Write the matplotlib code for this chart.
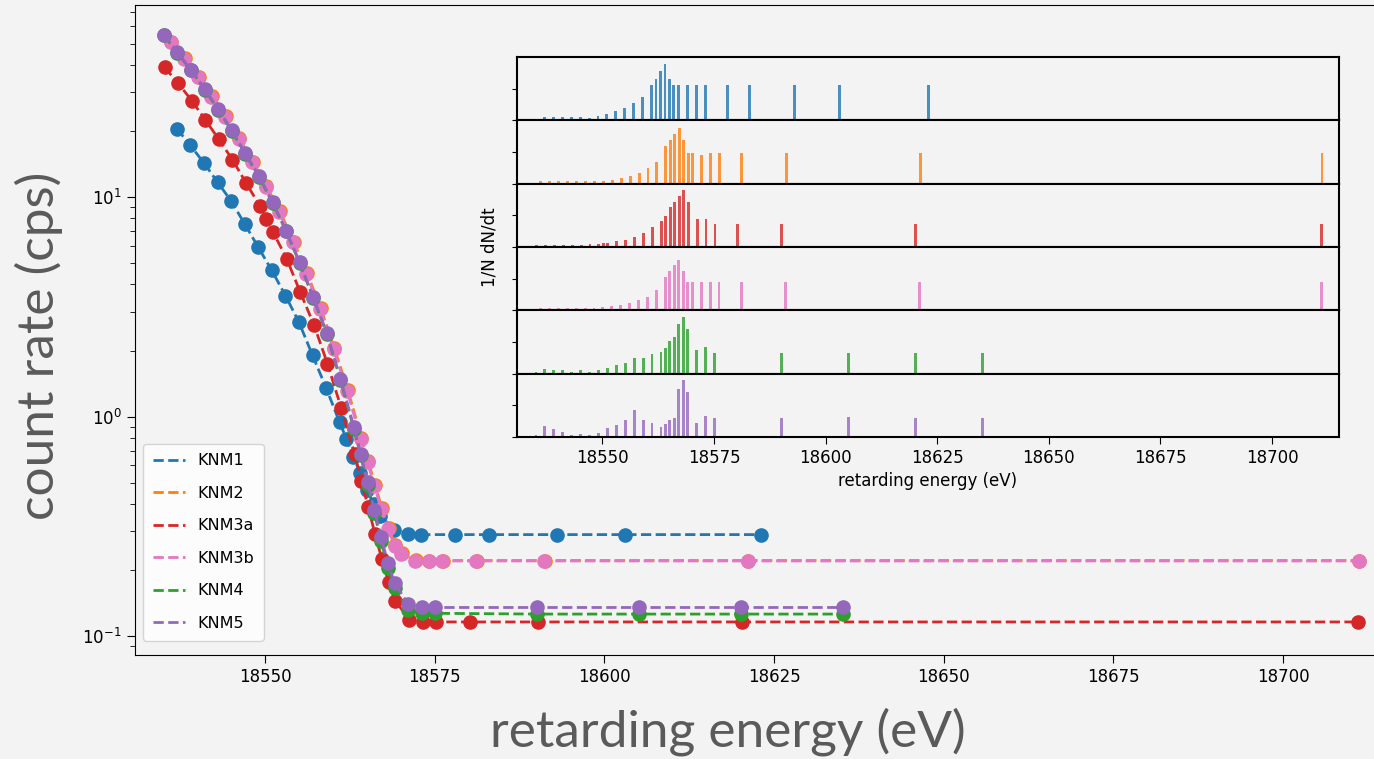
import matplotlib.pyplot as plt
from matplotlib.lines import Line2D

names = ["KNM1", "KNM2", "KNM3a", "KNM3b", "KNM4", "KNM5"]
colors = ["#1f77b4", "#ff7f0e", "#d62728", "#e377c2", "#2ca02c", "#9467bd"]

# retarding energies (eV)
e_knm1 = [18537, 18539, 18541, 18543, 18545, 18547, 18549, 18551, 18553, 18555,
          18557, 18559, 18561, 18562, 18563, 18564, 18565, 18566, 18567, 18569,
          18571, 18573, 18578, 18583, 18593, 18603, 18623]
e_knm2 = [18536.2, 18538.2, 18540.2, 18542.2, 18544.2, 18546.2, 18548.2, 18550.2,
          18552.2, 18554.2, 18556.2, 18558.2, 18560.2, 18562.2, 18564.2, 18565.2,
          18566.2, 18567.2, 18568.2, 18569.2, 18570.2, 18572.2, 18574.2, 18576.2,
          18581.2, 18591.2, 18621.2, 18711.2]
e_knm3a = [18535.2, 18537.2, 18539.2, 18541.2, 18543.2, 18545.2, 18547.2, 18549.2,
           18550.2, 18551.2, 18553.2, 18555.2, 18557.2, 18559.2, 18561.2, 18563.2,
           18564.2, 18565.2, 18566.2, 18567.2, 18568.2, 18569.2, 18571.2, 18573.2,
           18575.2, 18580.2, 18590.2, 18620.2, 18711.0]
e_knm3b = [18536.1, 18538.1, 18540.1, 18542.1, 18544.1, 18546.1, 18548.1, 18550.1,
           18552.1, 18554.1, 18556.1, 18558.1, 18560.1, 18562.1, 18564.1, 18565.1,
           18566.1, 18567.1, 18568.1, 18569.1, 18570.1, 18572.1, 18574.1, 18576.1,
           18581.1, 18591.1, 18621.1, 18711.1]
e_knm4 = [18535.1, 18537.1, 18539.1, 18541.1, 18543.1, 18545.1, 18547.1, 18549.1,
          18551.1, 18553.1, 18555.1, 18557.1, 18559.1, 18561.1, 18563.1, 18564.1,
          18565.1, 18566.1, 18567.1, 18568.1, 18569.1, 18571.1, 18573.1, 18575.1,
          18590.1, 18605.1, 18620.1, 18635.1]
e_knm5 = list(e_knm4)

# count rates (cps)
r_knm1 = [20.5, 17.2, 14.3, 11.7, 9.6, 7.55, 5.91, 4.63, 3.56, 2.69, 1.90, 1.35,
          0.94, 0.79, 0.657, 0.556, 0.465, 0.40, 0.354, 0.305, 0.292, 0.29, 0.29,
          0.29, 0.29, 0.29, 0.29]
r_knm3b = [50.7, 42.6, 35.1, 28.7, 23.1, 18.4, 14.4, 11.1, 8.53, 6.22, 4.47, 3.09,
           2.03, 1.31, 0.791, 0.619, 0.485, 0.380, 0.308, 0.258, 0.237, 0.221, 0.22,
           0.22, 0.22, 0.22, 0.22, 0.22]
r_knm2 = [51.0, 42.9, 35.3, 28.9, 23.3, 18.5, 14.5, 11.2, 8.6, 6.27, 4.5, 3.11,
          2.05, 1.32, 0.80, 0.625, 0.49, 0.384, 0.31, 0.26, 0.238, 0.222, 0.221,
          0.221, 0.221, 0.221, 0.221, 0.221]
r_knm3a = [39.0, 33.0, 27.5, 22.5, 18.3, 14.8, 11.6, 9.15, 7.96, 6.91, 5.23, 3.68,
           2.62, 1.74, 1.10, 0.676, 0.511, 0.386, 0.292, 0.225, 0.176, 0.145, 0.119,
           0.116, 0.116, 0.116, 0.116, 0.116, 0.116]
r_knm5 = [55.0, 45.7, 38.1, 31.1, 25.2, 20.2, 15.8, 12.5, 9.47, 7.04, 5.05, 3.50,
          2.40, 1.49, 0.894, 0.676, 0.502, 0.376, 0.282, 0.215, 0.174, 0.140, 0.135,
          0.135, 0.135, 0.135, 0.135, 0.135]
r_knm4 = [54.5, 45.3, 37.8, 30.9, 25.0, 20.0, 15.7, 12.4, 9.4, 7.0, 5.0, 3.47,
          2.38, 1.47, 0.88, 0.665, 0.49, 0.365, 0.272, 0.205, 0.165, 0.132, 0.127,
          0.127, 0.126, 0.126, 0.126, 0.126]

# relative measurement time per retarding energy (%)
t_knm1 = [0.19, 0.19, 0.19, 0.19, 0.19, 0.13, 0.29, 0.42, 0.57, 0.78, 1.12, 1.45,
          2.23, 2.63, 3.09, 3.58, 2.63, 2.23, 2.23, 2.23, 2.23, 2.23, 2.23, 2.23,
          2.23, 2.23, 2.23]
t_knm2 = [0.15, 0.15, 0.15, 0.15, 0.15, 0.15, 0.15, 0.19, 0.25, 0.38, 0.51, 0.65,
          0.97, 1.37, 2.36, 2.76, 3.16, 3.52, 2.78, 1.94, 1.94, 1.79, 1.94, 1.94,
          1.94, 1.94, 1.94, 1.94]
t_knm3a = [0.13, 0.13, 0.13, 0.13, 0.13, 0.13, 0.17, 0.21, 0.24, 0.27, 0.38, 0.46,
           0.63, 0.91, 1.26, 1.62, 1.94, 2.5, 2.86, 3.24, 3.58, 2.86, 1.77, 1.77,
           1.43, 1.43, 1.43, 1.43, 1.45]
t_knm3b = [0.15, 0.15, 0.15, 0.15, 0.15, 0.15, 0.15, 0.19, 0.27, 0.34, 0.48, 0.63,
           0.86, 1.26, 2.1, 2.5, 2.84, 3.18, 2.5, 1.77, 1.77, 1.77, 1.77, 1.77,
           1.77, 1.77, 1.77, 1.79]
t_knm4 = [0.13, 0.32, 0.21, 0.21, 0.13, 0.21, 0.13, 0.23, 0.36, 0.53, 0.67, 0.97,
          0.97, 1.22, 1.39, 1.6, 2.06, 2.34, 3.16, 3.58, 2.82, 1.49, 1.66, 1.33,
          1.33, 1.33, 1.33, 1.31]
t_knm5 = [0.13, 0.67, 0.51, 0.34, 0.15, 0.19, 0.15, 0.25, 0.55, 0.76, 1.07, 1.68,
          1.09, 0.91, 0.65, 0.8, 1.05, 1.18, 3.01, 3.58, 2.82, 0.86, 1.35, 1.22,
          1.22, 1.26, 1.22, 1.22]

energies = [e_knm1, e_knm2, e_knm3a, e_knm3b, e_knm4, e_knm5]
rates = [r_knm1, r_knm2, r_knm3a, r_knm3b, r_knm4, r_knm5]
times = [t_knm1, t_knm2, t_knm3a, t_knm3b, t_knm4, t_knm5]

bg = "#f3f3f3"
xlim = (18530.85, 18715)

fig = plt.figure(figsize=(13.74, 7.59), dpi=100, facecolor=bg)
ax = fig.add_axes([0.0983, 0.137, 0.9097, 0.8564], facecolor=bg)

for e, r, c, n in zip(energies, rates, colors, names):
    ax.plot(e, r, ls="--", lw=2, color=c, label=n)
    ax.plot(e, r, ls="none", marker="o", ms=9.5, color=c)

ax.set_yscale("log")
ax.set_xlim(*xlim)
ax.set_ylim(0.082, 75)
ax.set_xticks([18550, 18575, 18600, 18625, 18650, 18675, 18700])
ax.tick_params(labelsize=12, length=6)
ax.tick_params(which="minor", length=3.5)

ax.set_xlabel("retarding energy (eV)", fontsize=37, family="Lato", color="#5a5a5a")
ax.xaxis.set_label_coords(0.474, -0.08)
ax.set_ylabel("count rate (cps)", fontsize=37, family="Lato", color="#5a5a5a")
ax.yaxis.set_label_coords(-0.058, 0.475)

handles = [Line2D([], [], ls="--", lw=2, color=c) for c in colors]
ax.legend(handles, names, loc="lower left", fontsize=11.5, labelspacing=1.1,
          borderpad=0.6, handlelength=2.0, bbox_to_anchor=(0.0, 0.01))

# inset: measurement time distribution
left, right, top, bottom = 517 / 1374, 1339 / 1374, 1 - 57 / 759, 1 - 437 / 759
ph = (top - bottom) / 6
for i, (e, t, c) in enumerate(zip(energies, times, colors)):
    a = fig.add_axes([left, top - (i + 1) * ph, right - left, ph], facecolor=bg)
    a.bar(e, t, width=0.65, color=c, alpha=0.8)
    a.set_xlim(*xlim)
    a.set_ylim(0, 4)
    a.set_yticks([0, 2])
    a.set_yticklabels([])
    for s in a.spines.values():
        s.set_linewidth(1.5)
    if i < 5:
        a.tick_params(axis="x", bottom=False, labelbottom=False)
    else:
        a.set_xticks([18550, 18575, 18600, 18625, 18650, 18675, 18700])
        a.tick_params(axis="x", labelsize=12, length=5)
        a.set_xlabel("retarding energy (eV)", fontsize=12)

fig.text(490 / 1374, 1 - 247 / 759, "1/N dN/dt", rotation=90, fontsize=12,
         ha="center", va="center")

fig.savefig("out.png", dpi=100, facecolor=bg)
